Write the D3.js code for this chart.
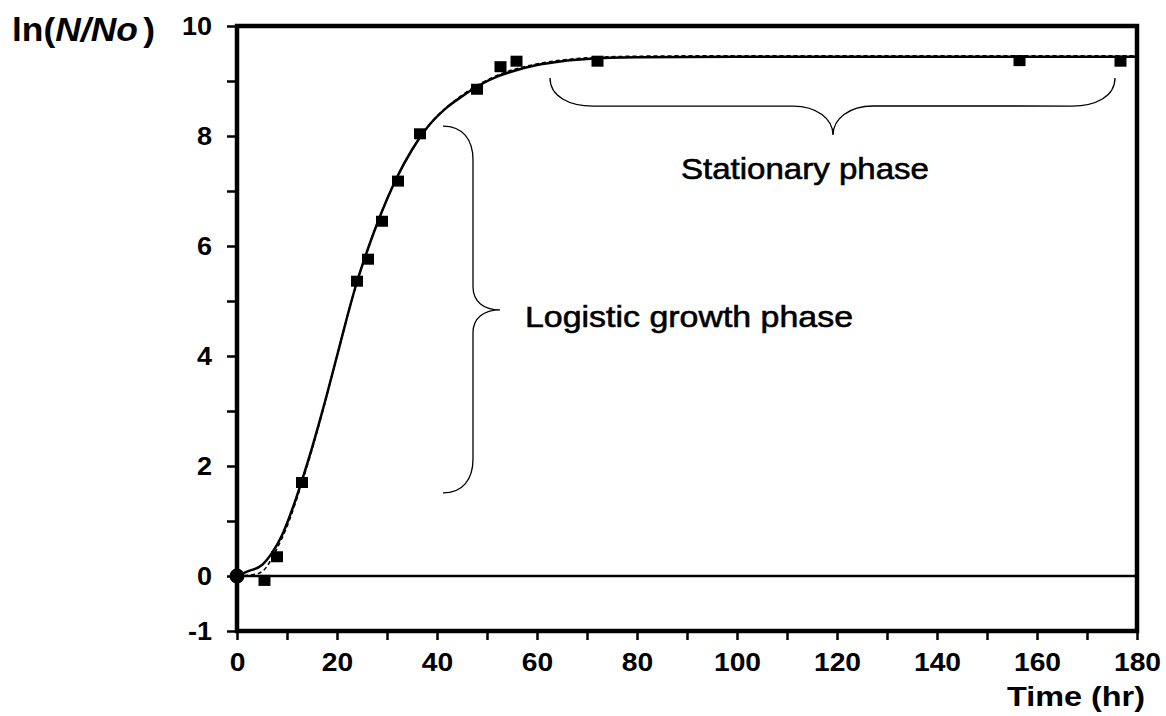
<!DOCTYPE html>
<html><head><meta charset="utf-8">
<script src="https://cdn.jsdelivr.net/npm/d3@7"></script>
<style>body{margin:0;background:#fff} svg{display:block}</style>
</head><body>
<svg id="c" width="1166" height="716"></svg>
<script>
// ---- data ----
const obsTime = [0, 5.5, 8, 13, 24, 26.2, 29, 32.2, 36.6, 48, 52.7, 55.9, 72.1, 156.5, 176.7];
const obsLnN  = [0, -0.08, 0.35, 1.7, 5.36, 5.76, 6.45, 7.18, 8.04, 8.85, 9.26, 9.36, 9.36, 9.37, 9.36];

const fitTime = [0, 2, 5, 7, 9, 11, 13, 15, 17, 20, 22, 24, 26, 28, 30, 32, 35, 38, 42, 45, 48, 52, 56, 60, 65, 70, 80, 100, 140, 180];
const fitLnN  = [0, 0.08, 0.2, 0.42, 0.74, 1.2, 1.74, 2.33, 2.97, 4.0, 4.7, 5.35, 5.9, 6.4, 6.85, 7.25, 7.75, 8.15, 8.52, 8.72, 8.9, 9.08, 9.2, 9.29, 9.36, 9.4, 9.43, 9.44, 9.44, 9.44];

const fit2Time = [0, 3, 5, 8, 10, 13, 15, 17, 20, 24, 28, 32, 38, 45, 52, 60, 70, 80, 100, 140, 180];
const fit2LnN  = [0, 0.02, 0.08, 0.5, 0.9, 1.7, 2.3, 2.95, 4.0, 5.35, 6.4, 7.25, 8.15, 8.74, 9.1, 9.31, 9.42, 9.45, 9.46, 9.46, 9.46];

const xTickValues  = [0, 10, 20, 30, 40, 50, 60, 70, 80, 90, 100, 110, 120, 130, 140, 150, 160, 170, 180];
const xLabelValues = [0, 20, 40, 60, 80, 100, 120, 140, 160, 180];
const yTickValues  = [-1, 0, 1, 2, 3, 4, 5, 6, 7, 8, 9, 10];
const yLabelValues = [-1, 0, 2, 4, 6, 8, 10];

const xTitle = "Time (hr)";
const phaseLabels = ["Logistic growth phase", "Stationary phase"];

// ---- layout ----
const FONT = "'Liberation Sans', Arial, Helvetica, sans-serif";
const svg = d3.select("#c");
const x = d3.scaleLinear().domain([0, 180]).range([237, 1137]);
const y = d3.scaleLinear().domain([-1, 10]).range([631, 26]);

function stretch(sel, f) {
  sel.each(function () {
    const w = this.getComputedTextLength();
    if (w > 0) {
      this.setAttribute("textLength", w * f);
      this.setAttribute("lengthAdjust", "spacingAndGlyphs");
    }
  });
}

// zero line
svg.append("line")
  .attr("x1", x(0)).attr("x2", x(180)).attr("y1", y(0)).attr("y2", y(0))
  .attr("stroke", "#000").attr("stroke-width", 2.5);

// axes
const gy = svg.append("g").attr("transform", `translate(${x(0)},0)`)
  .call(d3.axisLeft(y).tickValues(yTickValues).tickSize(10).tickPadding(15)
    .tickFormat(d => yLabelValues.includes(d) ? String(d) : ""));
const gx = svg.append("g").attr("transform", `translate(0,${y(-1)})`)
  .call(d3.axisBottom(x).tickValues(xTickValues).tickSize(9).tickPadding(13)
    .tickFormat(d => xLabelValues.includes(d) ? String(d) : ""));
[gx, gy].forEach(g => {
  g.select(".domain").remove();
  g.selectAll(".tick line").attr("stroke", "#000").attr("stroke-width", 2.5);
  g.selectAll(".tick text").attr("fill", "#000")
    .style("font-family", FONT).style("font-size", "25px").style("font-weight", "bold");
});
stretch(gx.selectAll(".tick text"), 1.13);
stretch(gy.selectAll(".tick text"), 1.08);

// frame
svg.append("rect")
  .attr("x", x(0)).attr("y", y(10))
  .attr("width", x(180) - x(0)).attr("height", y(-1) - y(10))
  .attr("fill", "none").attr("stroke", "#000").attr("stroke-width", 4.5);

// fitted curves
const fit = fitTime.map((t, i) => [t, fitLnN[i]]);
const fit2 = fit2Time.map((t, i) => [t, fit2LnN[i]]);
const line = d3.line().x(d => x(d[0])).y(d => y(d[1])).curve(d3.curveMonotoneX);
svg.append("path").attr("d", line(fit2)).attr("fill", "none")
  .attr("stroke", "#000").attr("stroke-width", 1.6).attr("stroke-dasharray", "4,3");
svg.append("path").attr("d", line(fit)).attr("fill", "none")
  .attr("stroke", "#000").attr("stroke-width", 2.5);

// observations
const obs = obsTime.map((t, i) => ({ t, v: obsLnN[i] }));
const S = 12;
svg.append("g").selectAll("rect").data(obs.slice(1)).join("rect")
  .attr("x", d => x(d.t) - S / 2).attr("y", d => y(d.v) - S / 2 + 0.5)
  .attr("width", S).attr("height", S - 1).attr("fill", "#000");
svg.append("circle").attr("cx", x(obs[0].t)).attr("cy", y(obs[0].v)).attr("r", 7.5).attr("fill", "#000");

// braces (anchors in data units)
const vBrace = { end: 41.2, spine: 47.2, tip: 52.6, top: 8.18, bottom: 1.51, mid: 4.84 };
const hBrace = { left: 62.6, right: 175.6, end: 9.055, spine: 8.545, tip: 8.018, mid: 119.2 };
{
  const x0 = x(vBrace.end), x1 = x(vBrace.spine), x2 = x(vBrace.tip);
  const yT = y(vBrace.top), yB = y(vBrace.bottom), yM = y(vBrace.mid);
  const r1 = 34, r2 = 23;
  const p = d3.path();
  p.moveTo(x0, yT);
  p.bezierCurveTo(x0 + (x1 - x0) * 0.66, yT, x1, yT + r1 * 0.4, x1, yT + r1);
  p.lineTo(x1, yM - r2);
  p.bezierCurveTo(x1, yM - r2 * 0.35, x1 + (x2 - x1) * 0.4, yM, x2, yM);
  p.bezierCurveTo(x1 + (x2 - x1) * 0.4, yM, x1, yM + r2 * 0.35, x1, yM + r2);
  p.lineTo(x1, yB - r1);
  p.bezierCurveTo(x1, yB - r1 * 0.4, x0 + (x1 - x0) * 0.66, yB, x0, yB);
  svg.append("path").attr("d", p.toString()).attr("fill", "none").attr("stroke", "#000").attr("stroke-width", 1.3);
}
{
  const xL = x(hBrace.left), xR = x(hBrace.right), xM = x(hBrace.mid);
  const y0 = y(hBrace.end), y1 = y(hBrace.spine), y2 = y(hBrace.tip);
  const r1 = 43, r2 = 40;
  const p = d3.path();
  p.moveTo(xL, y0);
  p.bezierCurveTo(xL, y0 + (y1 - y0) * 0.66, xL + r1 * 0.45, y1, xL + r1, y1);
  p.lineTo(xM - r2, y1);
  p.bezierCurveTo(xM - r2 * 0.4, y1, xM, y1 + (y2 - y1) * 0.45, xM, y2);
  p.bezierCurveTo(xM, y1 + (y2 - y1) * 0.45, xM + r2 * 0.4, y1, xM + r2, y1);
  p.lineTo(xR - r1, y1);
  p.bezierCurveTo(xR - r1 * 0.45, y1, xR, y0 + (y1 - y0) * 0.66, xR, y0);
  svg.append("path").attr("d", p.toString()).attr("fill", "none").attr("stroke", "#000").attr("stroke-width", 1.3);
}

// phase labels
const t1 = svg.append("text").attr("x", x(57.6)).attr("y", y(4.53))
  .style("font-family", FONT).style("font-size", "30px")
  .attr("stroke", "#000").attr("stroke-width", 0.6).text(phaseLabels[0]);
t1.each(function(){ this.setAttribute("textLength", 328); this.setAttribute("lengthAdjust", "spacingAndGlyphs"); });
const t2 = svg.append("text").attr("x", x(113.6)).attr("y", y(7.22)).attr("text-anchor", "middle")
  .style("font-family", FONT).style("font-size", "30px")
  .attr("stroke", "#000").attr("stroke-width", 0.6).text(phaseLabels[1]);
t2.each(function(){ this.setAttribute("textLength", 248); this.setAttribute("lengthAdjust", "spacingAndGlyphs"); });

// axis titles
const yl = svg.append("text").attr("x", 12).attr("y", 41)
  .style("font-family", FONT).style("font-size", "33px").style("font-weight", "bold");
yl.append("tspan").text("ln(");
yl.append("tspan").style("font-style", "italic").text("N/No");
yl.append("tspan").text(")").attr("dx", 5);
yl.attr("textLength", 143).attr("lengthAdjust", "spacingAndGlyphs");

svg.append("text").attr("x", 1145).attr("y", 706).attr("text-anchor", "end")
  .style("font-family", FONT).style("font-size", "27px").style("font-weight", "bold")
  .attr("textLength", 138).attr("lengthAdjust", "spacingAndGlyphs")
  .text(xTitle);
</script>
</body></html>
